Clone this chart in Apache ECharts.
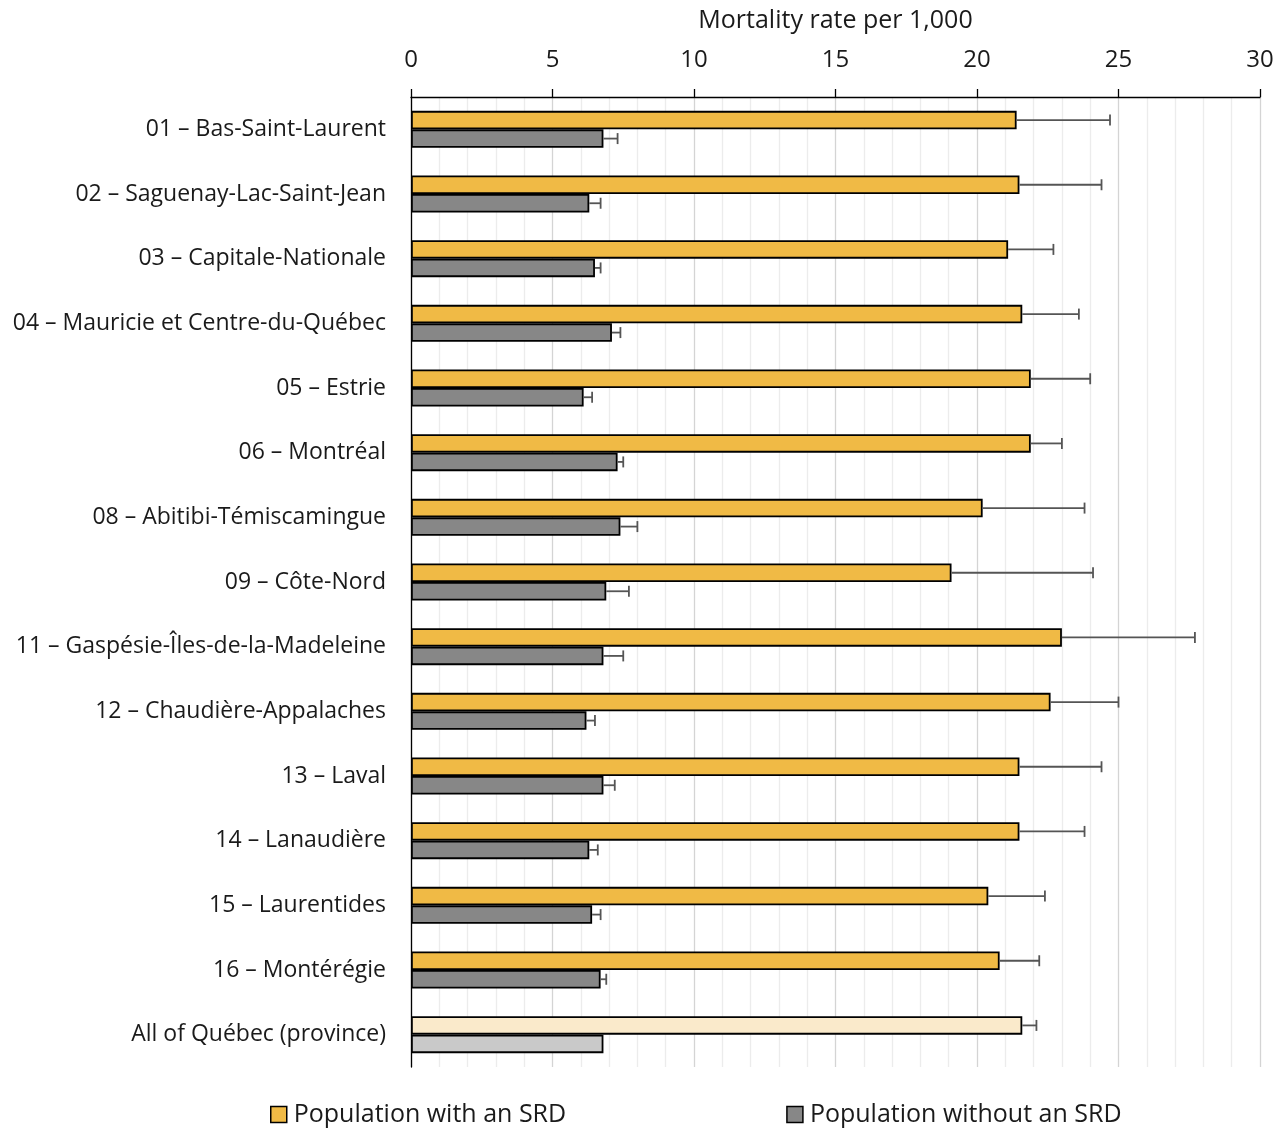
<!DOCTYPE html>
<html>
<head>
<meta charset="utf-8">
<script src="https://cdn.jsdelivr.net/npm/echarts@6/dist/echarts.min.js"></script>
<style>
  html, body { margin: 0; padding: 0; background: #ffffff; }
  #chart { width: 1286px; height: 1128px; }
</style>
</head>
<body>
<div id="chart"></div>
<script>
// Health regions of Québec, top to bottom
const regions = [
  '01 – Bas-Saint-Laurent',
  '02 – Saguenay-Lac-Saint-Jean',
  '03 – Capitale-Nationale',
  '04 – Mauricie et Centre-du-Québec',
  '05 – Estrie',
  '06 – Montréal',
  '08 – Abitibi-Témiscamingue',
  '09 – Côte-Nord',
  '11 – Gaspésie-Îles-de-la-Madeleine',
  '12 – Chaudière-Appalaches',
  '13 – Laval',
  '14 – Lanaudière',
  '15 – Laurentides',
  '16 – Montérégie',
  'All of Québec (province)'
];

// Mortality rate per 1,000
const withSRD = [21.4, 21.5, 21.1, 21.6, 21.9, 21.9, 20.2, 19.1, 23.0, 22.6, 21.5, 21.5, 20.4, 20.8, 21.6];
const withoutSRD = [6.8, 6.3, 6.5, 7.1, 6.1, 7.3, 7.4, 6.9, 6.8, 6.2, 6.8, 6.3, 6.4, 6.7, 6.8];

// Upper confidence limits
const withSRDUpper = [24.7, 24.4, 22.7, 23.6, 24.0, 23.0, 23.8, 24.1, 27.7, 25.0, 24.4, 23.8, 22.4, 22.2, 22.1];
const withoutSRDUpper = [7.3, 6.7, 6.7, 7.4, 6.4, 7.5, 8.0, 7.7, 7.5, 6.5, 7.2, 6.6, 6.7, 6.9, null];

const xTicks = [0, 5, 10, 15, 20, 25, 30];

const FONT = 'Open Sans';
const BAR_W = 18.5;
const TOTAL_INDEX = regions.length - 1;

const srdData = withSRD.map((v, i) => i === TOTAL_INDEX
  ? { value: v, itemStyle: { color: '#FAEACB' } } : v);
const noSrdData = withoutSRD.map((v, i) => i === TOTAL_INDEX
  ? { value: v, itemStyle: { color: '#C9C9C9' } } : v);

// [category index, bar value, upper limit, side (-1 upper bar, +1 lower bar)]
const errData = [];
withSRD.forEach((v, i) => { if (withSRDUpper[i] != null) errData.push([i, v, withSRDUpper[i], -1]); });
withoutSRD.forEach((v, i) => { if (withoutSRDUpper[i] != null) errData.push([i, v, withoutSRDUpper[i], 1]); });

const chart = echarts.init(document.getElementById('chart'), null, { renderer: 'canvas' });

chart.setOption({
  animation: false,
  backgroundColor: '#ffffff',
  textStyle: { fontFamily: FONT },
  grid: { left: 411, right: 26, top: 97, bottom: 61, containLabel: false, outerBoundsMode: 'none' },
  xAxis: {
    type: 'value',
    position: 'top',
    min: 0,
    max: 30,
    interval: 5,
    name: 'Mortality rate per 1,000',
    nameLocation: 'middle',
    nameGap: 64,
    nameTextStyle: { fontSize: 25, color: '#1a1a1a', fontFamily: FONT },
    axisLine: { show: true, lineStyle: { color: '#000000', width: 1.3 } },
    axisTick: { show: true, length: 8, lineStyle: { color: '#000000', width: 1.3 } },
    axisLabel: {
      fontSize: 24, color: '#1a1a1a', margin: 25, fontFamily: FONT,
      formatter: v => (xTicks.indexOf(v) >= 0 ? String(v) : '')
    },
    splitLine: { show: true, lineStyle: { color: '#d4d4d4', width: 1.3 } },
    minorTick: { show: false, splitNumber: 5 },
    minorSplitLine: { show: true, lineStyle: { color: '#ececec', width: 1.3 } }
  },
  yAxis: {
    type: 'category',
    inverse: true,
    data: regions,
    axisLine: { show: true, lineStyle: { color: '#000000', width: 1.3 } },
    axisTick: { show: false },
    axisLabel: { fontSize: 23, color: '#1a1a1a', margin: 25, fontFamily: FONT, padding: [5, 0, 0, 0] }
  },
  legend: {
    top: 1102,
    left: 270,
    padding: 0,
    itemWidth: 16,
    itemHeight: 16,
    itemGap: 220,
    icon: 'rect',
    textStyle: { fontSize: 25, color: '#1a1a1a', fontFamily: FONT, padding: [0, 0, 0, 2] },
    data: [
      { name: 'Population with an SRD', itemStyle: { color: '#F0BA45', borderColor: '#000', borderWidth: 1.5 } },
      { name: 'Population without an SRD', itemStyle: { color: '#878787', borderColor: '#000', borderWidth: 1.5 } }
    ]
  },
  series: [
    {
      name: 'Population with an SRD',
      type: 'bar',
      data: srdData,
      barWidth: BAR_W,
      barGap: '0%',
      itemStyle: { color: '#F0BA45', borderColor: '#000000', borderWidth: 1.8 }
    },
    {
      name: 'Population without an SRD',
      type: 'bar',
      data: noSrdData,
      barWidth: BAR_W,
      barGap: '0%',
      itemStyle: { color: '#878787', borderColor: '#000000', borderWidth: 1.8 }
    },
    {
      name: 'upper-limits',
      type: 'custom',
      z: 5,
      silent: true,
      encode: { x: [1, 2], y: 0 },
      data: errData,
      renderItem: function (params, api) {
        const cat = api.value(0);
        const p0 = api.coord([api.value(1), cat]);
        const p1 = api.coord([api.value(2), cat]);
        const y = p0[1] + api.value(3) * BAR_W / 2;
        const cap = 5.5;
        const style = { stroke: '#555555', lineWidth: 1.8, fill: null };
        return {
          type: 'group',
          children: [
            { type: 'line', shape: { x1: p0[0], y1: y, x2: p1[0], y2: y }, style: style },
            { type: 'line', shape: { x1: p1[0], y1: y - cap, x2: p1[0], y2: y + cap }, style: style }
          ]
        };
      }
    }
  ]
});
</script>
</body>
</html>
